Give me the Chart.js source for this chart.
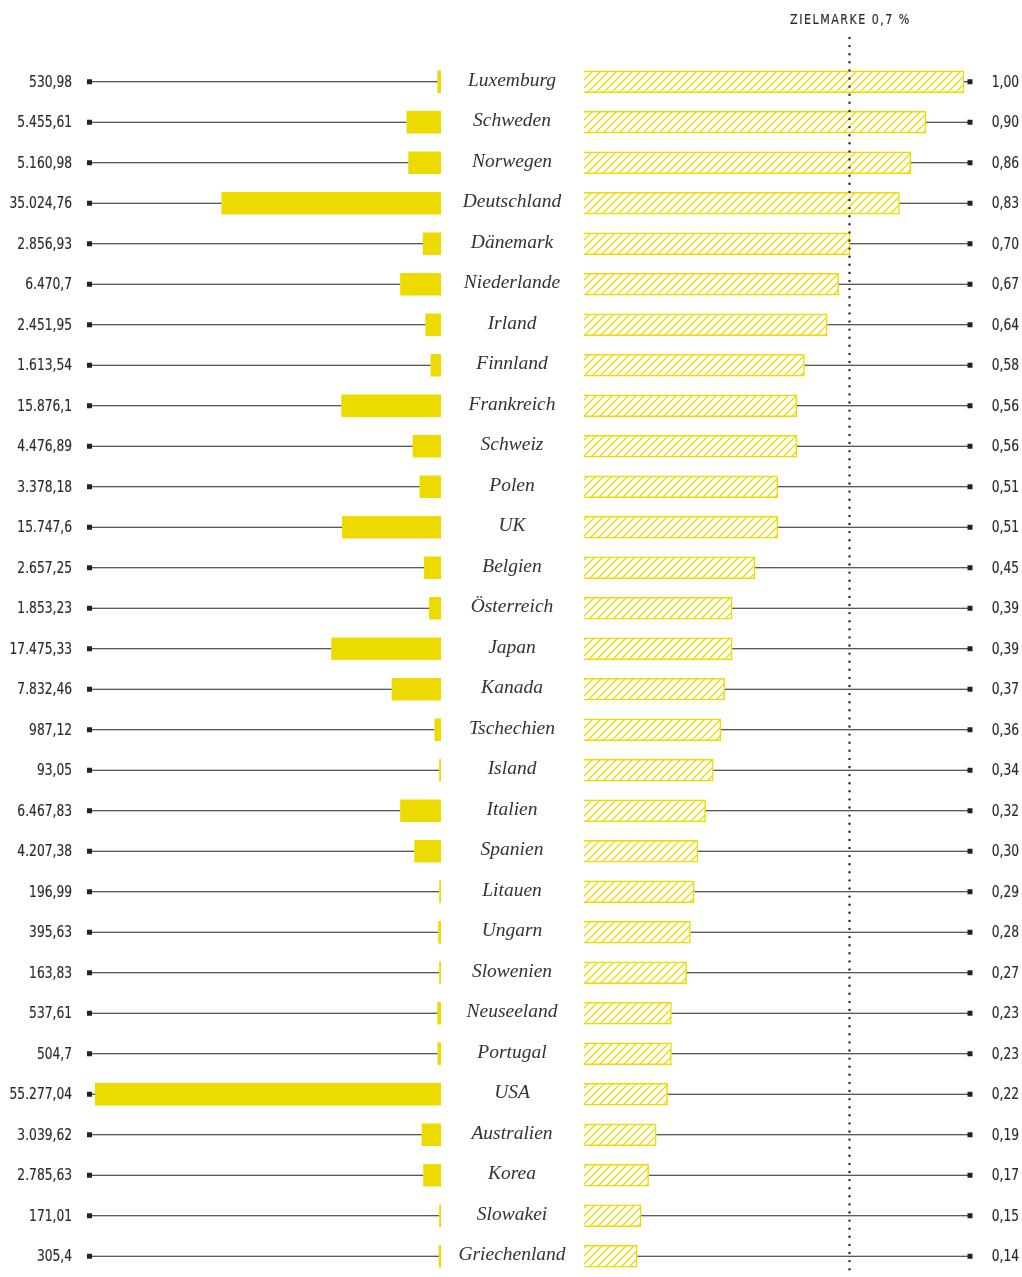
<!DOCTYPE html>
<html><head><meta charset="utf-8">
<script src="https://cdn.jsdelivr.net/npm/chart.js@4.4.1/dist/chart.umd.min.js"></script>
<style>
html,body{margin:0;padding:0;background:#fff;}
#wrap{position:relative;width:1022px;height:1277px;}
#wrap canvas{position:absolute;left:0;top:0;}
</style></head><body>
<div id="wrap"><canvas id="cL" width="1022" height="1277"></canvas><canvas id="cR" width="1022" height="1277"></canvas></div>
<script>
const countries = ['Luxemburg','Schweden','Norwegen','Deutschland','Dänemark','Niederlande','Irland','Finnland','Frankreich','Schweiz','Polen','UK','Belgien','Österreich','Japan','Kanada','Tschechien','Island','Italien','Spanien','Litauen','Ungarn','Slowenien','Neuseeland','Portugal','USA','Australien','Korea','Slowakei','Griechenland'];
const absValues = [530.98,5455.61,5160.98,35024.76,2856.93,6470.7,2451.95,1613.54,15876.1,4476.89,3378.18,15747.6,2657.25,1853.23,17475.33,7832.46,987.12,93.05,6467.83,4207.38,196.99,395.63,163.83,537.61,504.7,55277.04,3039.62,2785.63,171.01,305.4];
const absLabels = ['530,98','5.455,61','5.160,98','35.024,76','2.856,93','6.470,7','2.451,95','1.613,54','15.876,1','4.476,89','3.378,18','15.747,6','2.657,25','1.853,23','17.475,33','7.832,46','987,12','93,05','6.467,83','4.207,38','196,99','395,63','163,83','537,61','504,7','55.277,04','3.039,62','2.785,63','171,01','305,4'];
const pctValues = [1.00,0.90,0.86,0.83,0.70,0.67,0.64,0.58,0.56,0.56,0.51,0.51,0.45,0.39,0.39,0.37,0.36,0.34,0.32,0.30,0.29,0.28,0.27,0.23,0.23,0.22,0.19,0.17,0.15,0.14];
const pctLabels = ['1,00','0,90','0,86','0,83','0,70','0,67','0,64','0,58','0,56','0,56','0,51','0,51','0,45','0,39','0,39','0,37','0,36','0,34','0,32','0,30','0,29','0,28','0,27','0,23','0,23','0,22','0,19','0,17','0,15','0,14'];
const targetValue = 0.7;
const targetLabel = 'ZIELMARKE 0,7 %';

const YELLOW = '#eddb00';
const INK = '#222';
const NUMFONT = '15.5px "DejaVu Sans Condensed", sans-serif';
const SX = 0.88;
const PAD = {top: 61.5, bottom: 0.5};

function hatch(){
  const c = document.createElement('canvas'); c.width = 8; c.height = 8;
  const g = c.getContext('2d');
  g.fillStyle = '#fff'; g.fillRect(0,0,8,8);
  g.strokeStyle = YELLOW; g.lineWidth = 1.3;
  g.beginPath();
  g.moveTo(-1,9); g.lineTo(9,-1);
  g.moveTo(-5,5); g.lineTo(5,-5);
  g.moveTo(3,13); g.lineTo(13,3);
  g.stroke();
  return g.createPattern(c,'repeat');
}

function marker(ctx,x,y){ ctx.fillStyle = INK; ctx.fillRect(x-2.5,y-2.5,5,5); }

function narrowText(ctx, text, x, y, align){
  ctx.save();
  ctx.translate(x, y);
  ctx.scale(SX, 1);
  ctx.textAlign = align; ctx.textBaseline = 'middle';
  ctx.fillText(text, 0, 0);
  ctx.strokeStyle = ctx.fillStyle; ctx.lineWidth = 0.15;
  ctx.strokeText(text, 0, 0);
  ctx.restore();
}

const leftPlugin = {
  id:'leftDeco',
  beforeDatasetsDraw(chart){
    const ctx = chart.ctx, area = chart.chartArea;
    const meta = chart.getDatasetMeta(0);
    const mx = area.left - 5.5;
    ctx.save();
    meta.data.forEach((bar,i)=>{
      const y = bar.y;
      ctx.strokeStyle = INK; ctx.lineWidth = 1.1;
      ctx.beginPath(); ctx.moveTo(mx, y); ctx.lineTo(bar.x, y); ctx.stroke();
      marker(ctx, mx, y);
      ctx.fillStyle = '#2a2a2a'; ctx.font = NUMFONT;
      narrowText(ctx, absLabels[i], 72, y+1, 'right');
      ctx.font = 'italic 19.5px "Liberation Serif", "DejaVu Serif", serif';
      ctx.textAlign = 'center'; ctx.textBaseline = 'middle'; ctx.fillStyle = '#333';
      ctx.fillText(countries[i], 512, y-1);
    });
    ctx.restore();
  }
};

const rightPlugin = {
  id:'rightDeco',
  beforeDatasetsDraw(chart){
    const ctx = chart.ctx, area = chart.chartArea;
    const meta = chart.getDatasetMeta(0);
    const mx = area.right + 6;
    ctx.save();
    meta.data.forEach((bar,i)=>{
      const y = bar.y;
      ctx.strokeStyle = INK; ctx.lineWidth = 1.1;
      ctx.beginPath(); ctx.moveTo(bar.x, y); ctx.lineTo(mx, y); ctx.stroke();
      marker(ctx, mx, y);
      ctx.fillStyle = '#2a2a2a'; ctx.font = NUMFONT;
      narrowText(ctx, pctLabels[i], 1019, y+1, 'right');
    });
    ctx.restore();
  },
  afterDatasetsDraw(chart){
    const ctx = chart.ctx;
    const x = Math.round(chart.scales.x.getPixelForValue(targetValue)) - 0.5;
    ctx.save();
    ctx.strokeStyle = '#222'; ctx.lineWidth = 2.4; ctx.lineCap = 'round';
    ctx.setLineDash([0, 8.1]);
    ctx.beginPath(); ctx.moveTo(x, 38); ctx.lineTo(x, 1274); ctx.stroke();
    ctx.setLineDash([]);
    ctx.fillStyle = '#2a2a2a';
    ctx.font = '14px "DejaVu Sans Condensed", sans-serif';
    ctx.letterSpacing = '1.7px';
    narrowText(ctx, targetLabel, x+1, 20, 'center');
    ctx.restore();
  }
};

const common = {
  responsive:false, animation:false, indexAxis:'y',
  plugins:{legend:{display:false}, tooltip:{enabled:false}},
};

new Chart(document.getElementById('cL'), {
  type:'bar',
  data:{labels:countries, datasets:[{data:absValues, backgroundColor:YELLOW, borderWidth:0, barThickness:22, minBarLength:1.5}]},
  options:Object.assign({}, common, {
    layout:{padding:{left:95, right:1022-441, top:PAD.top, bottom:PAD.bottom}},
    scales:{
      x:{display:false, reverse:true, min:0, max:55277.04},
      y:{display:false}
    }
  }),
  plugins:[leftPlugin]
});

new Chart(document.getElementById('cR'), {
  type:'bar',
  data:{labels:countries, datasets:[{data:pctValues, backgroundColor:hatch(), borderColor:YELLOW, borderWidth:1.5, barThickness:22}]},
  options:Object.assign({}, common, {
    layout:{padding:{left:584, right:1022-964, top:PAD.top, bottom:PAD.bottom}},
    scales:{
      x:{display:false, min:0, max:1},
      y:{display:false}
    }
  }),
  plugins:[rightPlugin]
});
</script>
</body></html>
